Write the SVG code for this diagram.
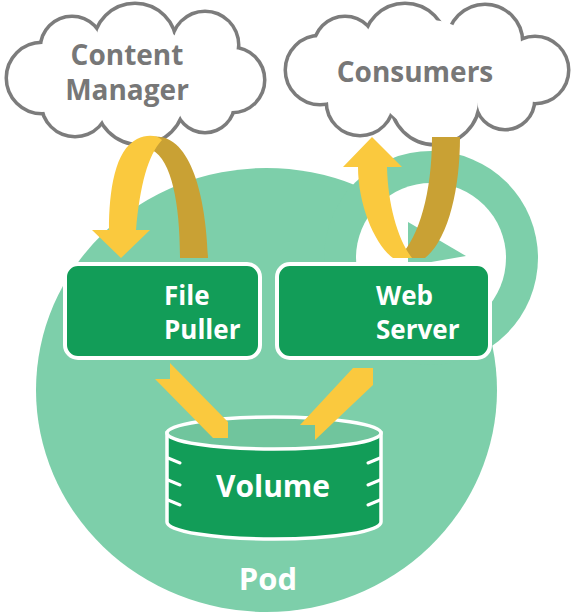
<svg xmlns="http://www.w3.org/2000/svg" width="577" height="614" viewBox="0 0 577 614">
<style>
.pod{fill:#7dcfaa}
.box{fill:#129d58;stroke:#fff;stroke-width:4}
.cl-s{fill:#fff;stroke:#7c7c7c;stroke-width:7}
.cl-f{fill:#fff}
.ctext{font-family:"Open Sans","Liberation Sans",sans-serif;font-weight:700;font-size:28px;fill:#777;text-anchor:middle}
.btext{font-family:"Open Sans","Liberation Sans",sans-serif;font-weight:700;font-size:26px;fill:#fff}
.vtext{font-family:"Open Sans","Liberation Sans",sans-serif;font-weight:700;fill:#fff;text-anchor:middle}
.yl{fill:#fac93e}
.dk{fill:#c9a134}
.tick{stroke:#fff;stroke-width:3;stroke-linecap:round;fill:none}
</style>
<rect width="577" height="614" fill="#fff"/>
<g id="pod">
  <ellipse class="pod" cx="266.5" cy="390" rx="230.5" ry="222"/>
  <circle class="pod" cx="431" cy="258" r="107"/>
  <circle fill="#fff" cx="431" cy="258" r="75"/>
  <polygon class="pod" points="408,222 466,256 408,266"/>
  <text class="vtext" x="268" y="590" font-size="31">Pod</text>
</g>
<g id="content-manager">
  <g class="cl-s">
    <circle cx="42" cy="78" r="34"/><circle cx="72" cy="48" r="30"/><circle cx="135" cy="45" r="40"/><circle cx="205" cy="45" r="32"/>
    <circle cx="232" cy="80" r="31"/><circle cx="205" cy="103" r="28"/><circle cx="140" cy="100" r="43"/><circle cx="75" cy="103" r="32"/>
  </g>
  <g class="cl-f">
    <circle cx="42" cy="78" r="34"/><circle cx="72" cy="48" r="30"/><circle cx="135" cy="45" r="40"/><circle cx="205" cy="45" r="32"/>
    <circle cx="232" cy="80" r="31"/><circle cx="205" cy="103" r="28"/><circle cx="140" cy="100" r="43"/><circle cx="75" cy="103" r="32"/>
    <circle cx="140" cy="78" r="55"/><circle cx="200" cy="75" r="32"/><circle cx="75" cy="75" r="30"/>
  </g>
  <text class="ctext" x="127" y="65">Content</text>
  <text class="ctext" x="127" y="100">Manager</text>
</g>
<g id="consumers">
  <g class="cl-s">
    <circle cx="320" cy="70" r="33"/><circle cx="345" cy="48" r="30"/><circle cx="405" cy="45" r="40"/><circle cx="485" cy="42" r="36"/>
    <circle cx="535" cy="70" r="32"/><circle cx="505" cy="100" r="28"/><circle cx="435" cy="100" r="43"/><circle cx="360" cy="102" r="32"/>
  </g>
  <g class="cl-f">
    <circle cx="320" cy="70" r="33"/><circle cx="345" cy="48" r="30"/><circle cx="405" cy="45" r="40"/><circle cx="485" cy="42" r="36"/>
    <circle cx="535" cy="70" r="32"/><circle cx="505" cy="100" r="28"/><circle cx="435" cy="100" r="43"/><circle cx="360" cy="102" r="32"/>
    <circle cx="430" cy="75" r="55"/><circle cx="365" cy="75" r="32"/><circle cx="500" cy="72" r="32"/>
  </g>
  <text class="ctext" x="415" y="82">Consumers</text>
</g>
<g id="file-puller">
  <rect class="box" x="65" y="264" width="195" height="94" rx="13"/>
  <text class="btext" x="164" y="305">File</text>
  <text class="btext" x="164" y="339">Puller</text>
</g>
<g id="web-server">
  <rect class="box" x="277" y="264" width="213" height="94" rx="13"/>
  <text class="btext" x="376" y="305">Web</text>
  <text class="btext" x="376" y="339">Server</text>
</g>
<g id="volume">
  <path d="M167,433 L167,522 A107,17 0 0 0 381,522 L381,433 Z" fill="#129d58" stroke="#fff" stroke-width="3.5"/>
  <ellipse cx="274" cy="433" rx="107" ry="16" fill="#70c59d" stroke="#fff" stroke-width="3.5"/>
  <path class="tick" d="M168,458 L180,463 M168,480 L180,485 M168,500 L180,505 M380,458 L368,463 M380,480 L368,485 M380,500 L368,505"/>
  <text class="vtext" x="273" y="497" font-size="30">Volume</text>
</g>
<g id="connectors">
  <path class="dk" d="M150,137 C190,130 206,195 208,258 L180,258 C180,205 172,160 152,150 Z"/>
  <path class="yl" d="M109,230 C109,190 115,150 137,139 C147,134 157,135 162,140 C148,155 140,185 136,230 L150,230 L121,258 L92,230 Z"/>
  <path class="dk" d="M432,137 L460,137 C460,190 448,240 425,258 L398,258 C418,240 432,195 432,137 Z"/>
  <path class="yl" d="M358,167 C358,205 375,245 393,258 L412,258 C398,240 388,205 387,167 L402,167 L372,137 L343,167 Z"/>
  <polygon class="yl" points="170,363 228,422 228,438 213,438 155,379 170,379"/>
  <polygon class="yl" points="353,368 373,368 373,385 315,440 315,425 300,425"/>
</g>
</svg>
